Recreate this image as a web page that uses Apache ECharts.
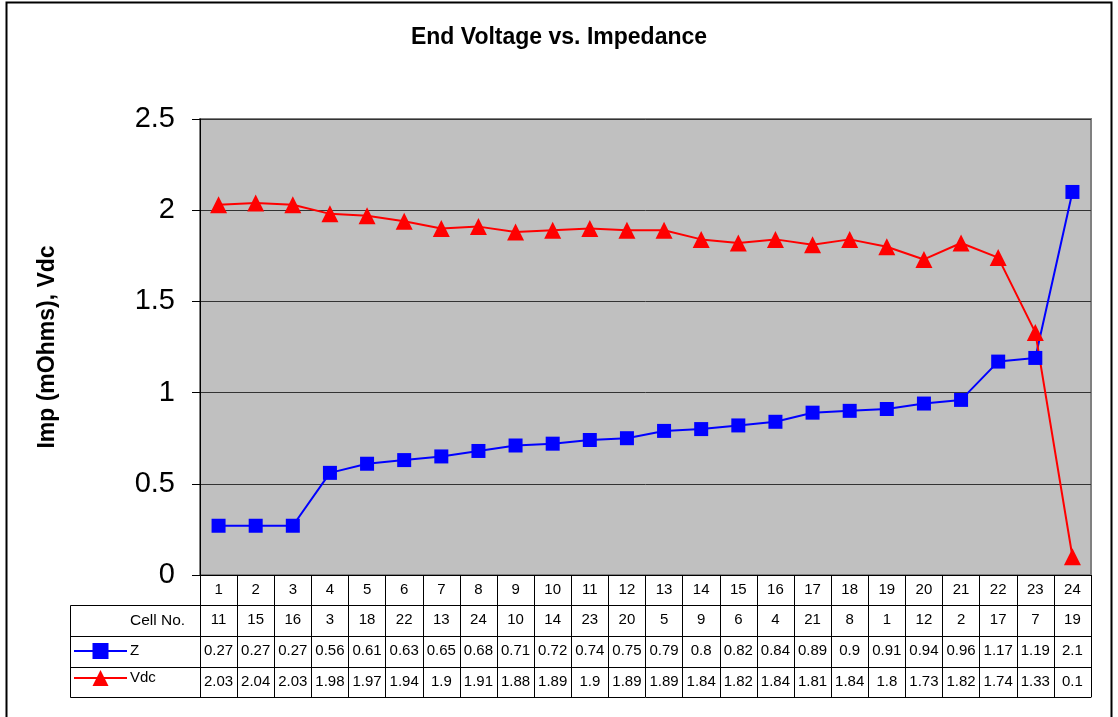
<!DOCTYPE html>
<html>
<head>
<meta charset="utf-8">
<script src="https://cdn.jsdelivr.net/npm/echarts@6/dist/echarts.min.js"></script>
<style>
  html, body { margin: 0; padding: 0; background: #fff; }
  #chart-1 { width: 1118px; height: 717px; }
</style>
</head>
<body>
<div id="chart-1"></div>
<script>
var positions = ["1", "2", "3", "4", "5", "6", "7", "8", "9", "10", "11", "12",
  "13", "14", "15", "16", "17", "18", "19", "20", "21", "22", "23", "24"];
var cellNo = ["11", "15", "16", "3", "18", "22", "13", "24", "10", "14", "23", "20",
  "5", "9", "6", "4", "21", "8", "1", "12", "2", "17", "7", "19"];
var zValues = [0.27, 0.27, 0.27, 0.56, 0.61, 0.63, 0.65, 0.68, 0.71, 0.72, 0.74, 0.75,
  0.79, 0.8, 0.82, 0.84, 0.89, 0.9, 0.91, 0.94, 0.96, 1.17, 1.19, 2.1];
var vdcValues = [2.03, 2.04, 2.03, 1.98, 1.97, 1.94, 1.9, 1.91, 1.88, 1.89, 1.9, 1.89,
  1.89, 1.84, 1.82, 1.84, 1.81, 1.84, 1.8, 1.73, 1.82, 1.74, 1.33, 0.1];

/**Chart 1**/
var dom = document.getElementById("chart-1");
var Chart1 = echarts.init(dom, null, { renderer: "canvas" });

var font = "Arial, 'Liberation Sans', sans-serif";

// one table row = one extra category axis under the plot
function tableAxis(data, offset, tickLen) {
  return {
    type: "category",
    position: "bottom",
    offset: offset,
    data: data,
    axisLine: { show: true, lineStyle: { color: "#000", width: 1 } },
    axisTick: { show: tickLen > 0, length: tickLen, lineStyle: { color: "#000", width: 1 } },
    axisLabel: {
      interval: 0,
      margin: 15,
      verticalAlign: "middle",
      color: "#000",
      fontSize: 15,
      fontFamily: font,
    },
    splitLine: { show: false },
  };
}

var option = {
  animation: false,
  backgroundColor: "#fff",
  textStyle: { fontFamily: font },
  title: {
    text: "End Voltage vs. Impedance",
    left: "center",
    top: 21,
    textStyle: { fontSize: 23, fontWeight: "bold", color: "#000", fontFamily: font },
  },
  legend: {
    orient: "vertical",
    left: 73,
    top: 643,
    padding: 0,
    itemWidth: 53,
    itemHeight: 20,
    itemGap: 11,
    textStyle: { fontSize: 15, color: "#000", fontFamily: font, padding: [4, 0, 0, -2] },
    data: ["Z", "Vdc"],
  },
  grid: {
    left: 200,
    right: 27,
    top: 119,
    bottom: 142,
    show: true,
    backgroundColor: "#C0C0C0",
    borderColor: "#808080",
    borderWidth: 2,
  },
  xAxis: [
    tableAxis(positions, 0, 30),
    tableAxis(cellNo, 30, 31),
    tableAxis(zValues.map(String), 61, 31),
    tableAxis(vdcValues.map(String), 92, 30),
    tableAxis(positions.map(function () { return ""; }), 122, 0),
  ],
  yAxis: {
    type: "value",
    min: 0,
    max: 2.5,
    interval: 0.5,
    name: "Imp (mOhms), Vdc",
    nameLocation: "middle",
    nameGap: 141,
    nameTextStyle: { fontSize: 23, fontWeight: "bold", color: "#000", fontFamily: font },
    axisLine: { show: true, lineStyle: { color: "#000", width: 1 } },
    axisTick: { show: true, length: 8, lineStyle: { color: "#000" } },
    axisLabel: { fontSize: 29, color: "#000", margin: 25, fontFamily: font },
    splitLine: { show: true, lineStyle: { color: "#333", width: 1 } },
  },
  series: [
    {
      name: "Z",
      type: "line",
      data: zValues,
      color: "#0000FF",
      symbol: "rect",
      symbolSize: 14,
      lineStyle: { width: 2 },
    },
    {
      name: "Vdc",
      type: "line",
      data: vdcValues,
      color: "#FF0000",
      symbol: "triangle",
      symbolSize: 17,
      lineStyle: { width: 2 },
    },
  ],
  graphic: [
    {
      type: "rect",
      shape: { x: 6.5, y: 2.5, width: 1105, height: 730 },
      style: { fill: null, stroke: "#000", lineWidth: 2 },
      silent: true,
    },
    {
      type: "rect",
      shape: { x: 70.5, y: 605.5, width: 130, height: 92 },
      style: { fill: null, stroke: "#000", lineWidth: 1 },
      silent: true,
    },
    {
      type: "line",
      shape: { x1: 70, y1: 636.5, x2: 200, y2: 636.5 },
      style: { stroke: "#000", lineWidth: 1 },
      silent: true,
    },
    {
      type: "line",
      shape: { x1: 70, y1: 667.5, x2: 200, y2: 667.5 },
      style: { stroke: "#000", lineWidth: 1 },
      silent: true,
    },
    {
      type: "text",
      left: 130,
      top: 613,
      style: { text: "Cell No.", fontSize: 15.5, fill: "#000", fontFamily: font },
      silent: true,
    },
  ],
};

Chart1.setOption(option);
window.addEventListener("resize", Chart1.resize);
/**End Chart 1**/
</script>
</body>
</html>
